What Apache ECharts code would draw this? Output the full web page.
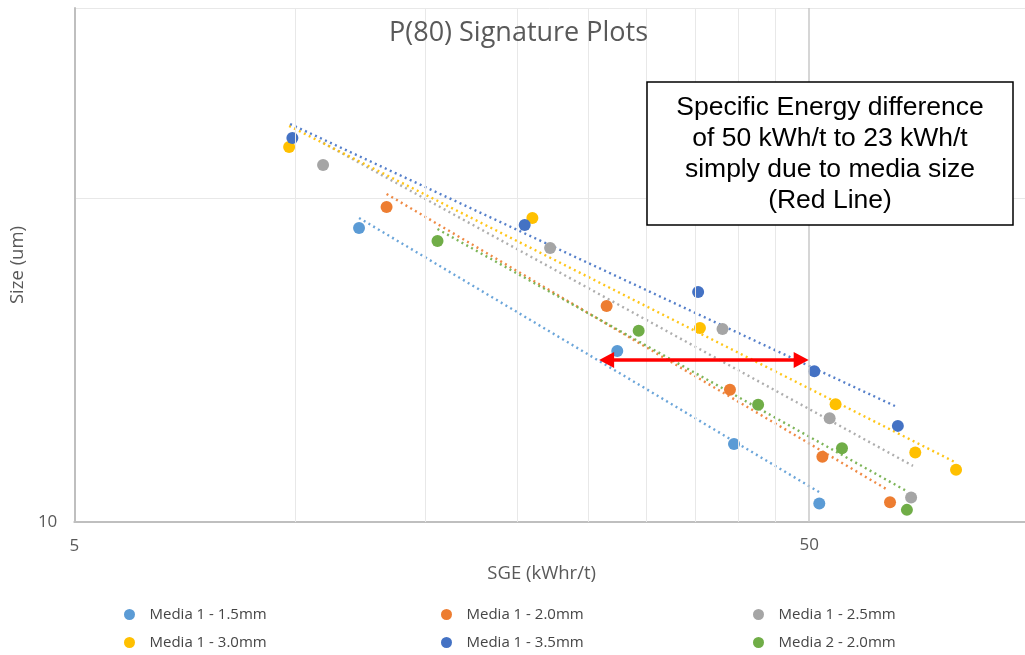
<!DOCTYPE html>
<html>
<head>
<meta charset="utf-8">
<script src="https://cdn.jsdelivr.net/npm/echarts@6/dist/echarts.min.js"></script>
<style>
html,body{margin:0;padding:0;background:#fff;}
#chart{width:1025px;height:655px;}
</style>
</head>
<body>
<div id="chart"></div>
<script>
// ---- data ----
const seriesNames = ['Media 1 - 1.5mm','Media 1 - 2.0mm','Media 1 - 2.5mm','Media 1 - 3.0mm','Media 1 - 3.5mm','Media 2 - 2.0mm'];
const seriesColors = ['#5B9BD5','#ED7D31','#A5A5A5','#FFC000','#4472C4','#70AD47'];

const m15 = [[12.2,80.8],[27.4,33.7],[39.5,17.4],[51.6,11.4]];
const m20 = [[13.3,93.8],[26.5,46.4],[39.0,25.6],[52.1,15.9],[64.4,11.5]];
const m25 = [[10.9,126.5],[22.2,70.1],[38.1,39.4],[53.3,20.9],[68.8,11.9]];
const m30 = [[9.8,143.7],[21.0,86.8],[35.5,39.7],[54.3,23.1],[69.7,16.4],[79.2,14.5]];
const m35 = [[9.9,153.2],[20.5,82.5],[35.3,51.3],[50.8,29.2],[66.0,19.8]];
const m2_20 = [[15.6,73.7],[29.3,38.9],[42.6,23.0],[55.4,16.9],[67.9,10.9]];

// trend line end points
const t15 = [[12.2,86.8],[51.8,12.3]];
const t20 = [[13.3,102.9],[63.8,12.6]];
const t25 = [[10.9,147.9],[69.2,14.9]];
const t30 = [[9.8,166.9],[79.4,15.2]];
const t35 = [[9.83,169.2],[65.4,22.8]];
const t2_20 = [[15.6,80.2],[68.1,12.4]];

const minorGridX = [10,15,20,25,30,35,40,45];
const majorGridX = [50];
const xLabels = ['5','50'];
const yLabels = ['10'];
const arrowX = [26.5, 48.75];
const arrowY = 31.6;

const titleText = 'P(80) Signature Plots';
const noteText = 'Specific Energy difference\nof 50 kWh/t to 23 kWh/t\nsimply due to media size\n(Red Line)';

const points = [m15, m20, m25, m30, m35, m2_20];
const trends = [t15, t20, t25, t30, t35, t2_20];

const font = '"Open Sans", sans-serif';
const series = [];

// gridlines holder
series.push({
  type: 'line', name: 'grid', data: [], z: 1, silent: true,
  markLine: {
    silent: true, symbol: ['none','none'], animation: false,
    data: minorGridX.map(v => ({xAxis: v, lineStyle: {color: '#E8E8E8', width: 1, type: 'solid'}, label: {show: false}}))
      .concat(majorGridX.map(v => ({xAxis: v, lineStyle: {color: '#C9C9C9', width: 1.5, type: 'solid'},
        label: {show: true, position: 'start', formatter: xLabels[1], color: '#595959', fontSize: 17, fontFamily: font, distance: 15}})))
  }
});

trends.forEach((t, i) => {
  series.push({
    type: 'line', name: seriesNames[i] + ' trend', data: t, z: 2,
    symbol: 'none', silent: true,
    lineStyle: {color: seriesColors[i], width: 2.4, type: [2, 3.5], opacity: 0.9}
  });
});

points.forEach((p, i) => {
  series.push({
    type: 'scatter', name: seriesNames[i], data: p, z: 3,
    symbol: 'circle', symbolSize: 12,
    itemStyle: {color: seriesColors[i], opacity: 1}
  });
});

// red arrow
series.push({
  type: 'line', name: 'arrow', data: [], z: 10, silent: true,
  markLine: {
    silent: true, animation: false,
    symbol: ['triangle','triangle'], symbolSize: [16, 15],
    label: {show: false},
    lineStyle: {color: '#FF0000', width: 3.5, type: 'solid'},
    data: [[{coord: [arrowX[0], arrowY]}, {coord: [arrowX[1], arrowY]}]]
  }
});

const legendCol = (names, left) => ({
  orient: 'vertical', left: left, top: 602, itemGap: 13,
  itemWidth: 30, itemHeight: 11, icon: 'circle',
  data: names,
  textStyle: {color: '#454545', fontSize: 15, fontFamily: font},
  selectedMode: false
});

const chart = echarts.init(document.getElementById('chart'), null, {renderer: 'canvas'});
chart.setOption({
  animation: false,
  backgroundColor: '#ffffff',
  title: {
    text: titleText, left: 389, top: 20, padding: 0,
    textStyle: {color: '#595959', fontSize: 27, fontWeight: 'normal', fontFamily: font}
  },
  grid: {left: 73, right: 0, top: 8, bottom: 133, containLabel: false},
  xAxis: {
    type: 'log', logBase: 10, min: 5, max: 98.3,
    name: 'SGE (kWhr/t)', nameLocation: 'middle', nameGap: 42,
    nameTextStyle: {color: '#595959', fontSize: 18.5, fontFamily: font, padding: [0, 16, 0, 0]},
    axisLine: {show: true, lineStyle: {color: '#BFBFBF', width: 2}},
    axisTick: {show: false},
    splitLine: {show: false},
    axisLabel: {
      color: '#595959', fontSize: 17, fontFamily: font, margin: 16,
      showMaxLabel: false,
      formatter: v => (Math.abs(v - 5) < 0.01 ? xLabels[0] : '')
    }
  },
  yAxis: {
    type: 'log', logBase: 10, min: 10, max: 385.8,
    name: 'Size (um)', nameLocation: 'middle', nameGap: 46,
    nameTextStyle: {color: '#595959', fontSize: 18.5, fontFamily: font},
    axisLine: {show: true, lineStyle: {color: '#BFBFBF', width: 2}},
    axisTick: {show: false},
    splitLine: {show: true, lineStyle: {color: '#E8E8E8', width: 1}},
    axisLabel: {
      color: '#595959', fontSize: 17, fontFamily: font, margin: 17,
      showMaxLabel: false,
      formatter: v => (Math.abs(v - 10) < 0.01 ? yLabels[0] : '')
    }
  },
  legend: [
    legendCol([seriesNames[0], seriesNames[3]], 119),
    legendCol([seriesNames[1], seriesNames[4]], 436),
    legendCol([seriesNames[2], seriesNames[5]], 748)
  ],
  graphic: [
    {
      type: 'rect', z: 100,
      shape: {x: 647, y: 82, width: 366, height: 143},
      style: {fill: '#ffffff', stroke: '#000000', lineWidth: 1.5}
    },
    {
      type: 'text', z: 101, x: 830, y: 154,
      style: {
        text: noteText, align: 'center', verticalAlign: 'middle',
        font: '26.5px "Liberation Sans", Arial, sans-serif', lineHeight: 31, fill: '#000000'
      }
    }
  ],
  series: series
});
</script>
</body>
</html>
